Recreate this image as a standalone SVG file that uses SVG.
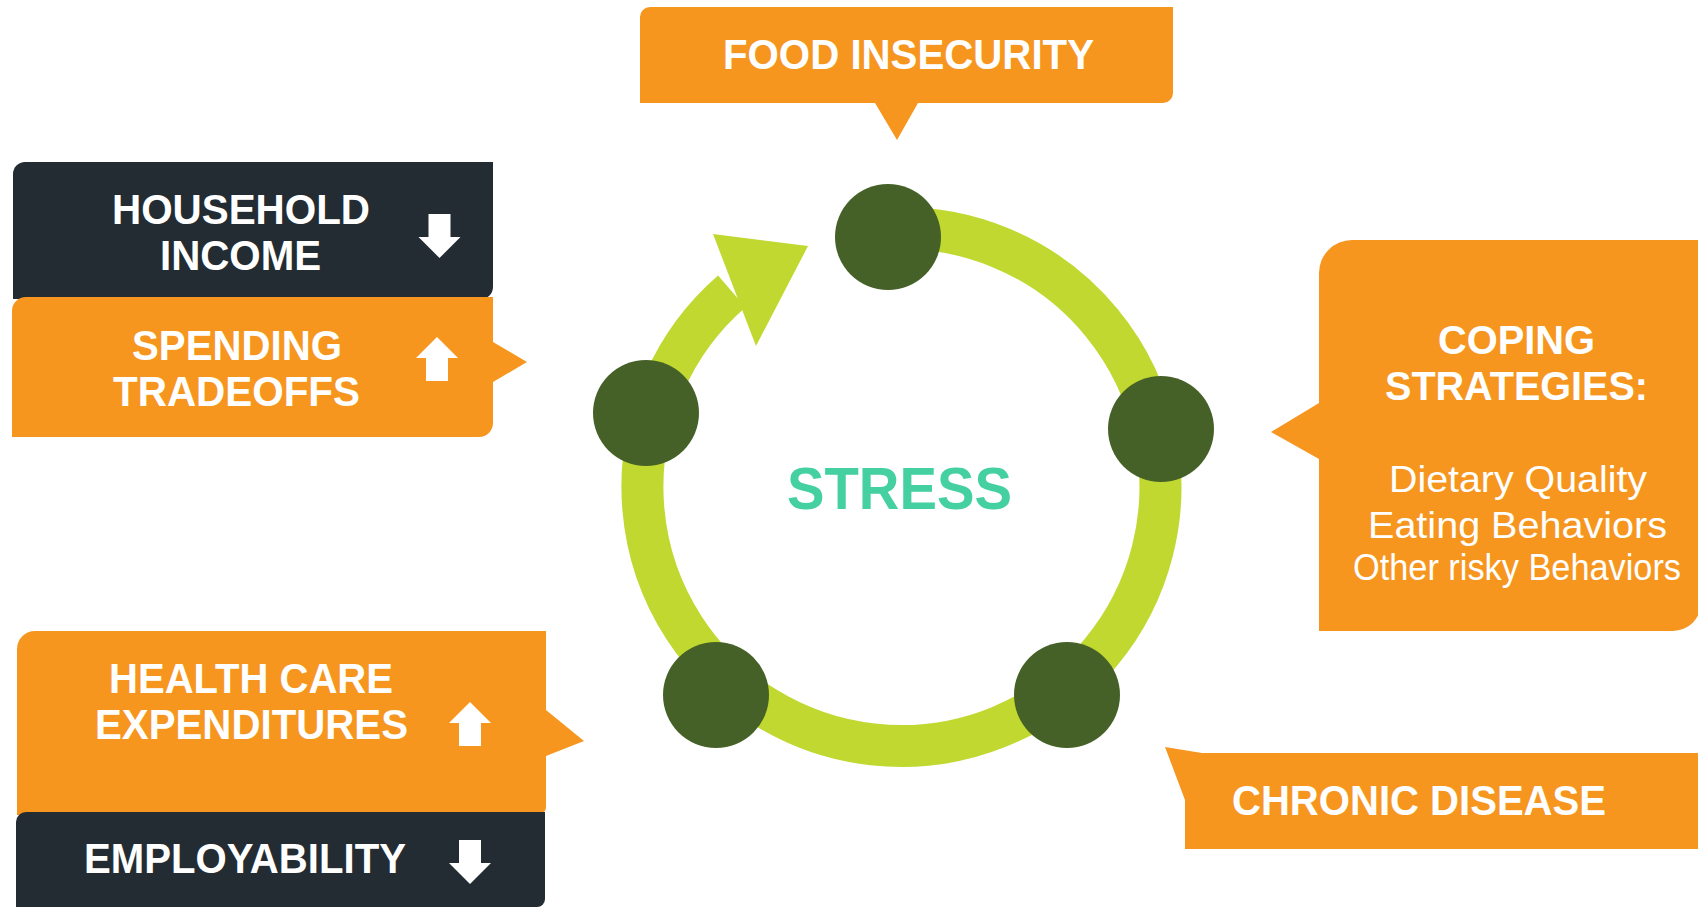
<svg xmlns="http://www.w3.org/2000/svg" width="1698" height="910" viewBox="0 0 1698 910">
  <style>
    .orange { fill: #F7961F; }
    .dark { fill: #232C33; }
    .label { font-family: "Liberation Sans", Arial, sans-serif; font-weight: bold; font-size: 43px; fill: #FFFFFF; text-anchor: middle; }
    .coping { font-size: 40px; }
    .body { font-family: "Liberation Sans", Arial, sans-serif; font-size: 37px; fill: #FFFFFF; text-anchor: middle; }
    .stress { font-family: "Liberation Sans", Arial, sans-serif; font-weight: bold; font-size: 60px; fill: #44D0A1; text-anchor: middle; }
    .ring { fill: none; stroke: #C0D830; stroke-width: 42; }
    .ring-head { fill: #C0D830; }
    .dot { fill: #456128; }
    .updown { fill: #FFFFFF; }
  </style>
  <defs>
    <!-- block arrow pointing up, tip at origin -->
    <path id="up-arrow" d="M0 0 L21 21 L11 21 L11 44 L-11 44 L-11 21 L-21 21 Z"/>
  </defs>

  <rect width="1698" height="910" fill="#FFFFFF"/>

  <!-- cycle ring with arrowhead -->
  <g id="connectors">
    <path class="ring" d="M887.4 228.4 A259 259 0 1 1 731.8 291.3"/>
    <polygon class="ring-head" points="713,234 808,246 756,346"/>
  </g>

  <!-- cycle nodes -->
  <g id="cycle-nodes">
    <circle id="node-top" class="dot" cx="888" cy="237" r="53"/>
    <circle id="node-right" class="dot" cx="1161" cy="429" r="53"/>
    <circle id="node-bottom-right" class="dot" cx="1067" cy="695" r="53"/>
    <circle id="node-bottom-left" class="dot" cx="716" cy="695" r="53"/>
    <circle id="node-left" class="dot" cx="646" cy="413" r="53"/>
  </g>

  <g id="stress">
    <text class="stress" x="899.5" y="509" textLength="225" lengthAdjust="spacingAndGlyphs">STRESS</text>
  </g>

  <g id="food-insecurity">
    <path class="orange" d="M650 7 H1173 V93 A10 10 0 0 1 1163 103 H918 L897 140 L875 103 H640 V17 A10 10 0 0 1 650 7 Z"/>
    <text class="label" x="908.5" y="69" textLength="371" lengthAdjust="spacingAndGlyphs">FOOD INSECURITY</text>
  </g>

  <g id="household-income">
    <path class="dark" d="M25 162 H493 V287 A12 12 0 0 1 481 299 H13 V174 A12 12 0 0 1 25 162 Z"/>
    <text class="label" x="241" y="224" textLength="258" lengthAdjust="spacingAndGlyphs">HOUSEHOLD</text>
    <text class="label" x="240.5" y="270" textLength="161" lengthAdjust="spacingAndGlyphs">INCOME</text>
    <use href="#up-arrow" class="updown" transform="translate(439.5 258) scale(1 -1)"/>
  </g>

  <g id="spending-tradeoffs">
    <path class="orange" d="M26 297 H493 V342 L527 362 L493 382 V423 A14 14 0 0 1 479 437 H12 V311 A14 14 0 0 1 26 297 Z"/>
    <text class="label" x="237" y="360" textLength="210" lengthAdjust="spacingAndGlyphs">SPENDING</text>
    <text class="label" x="236.5" y="406" textLength="247" lengthAdjust="spacingAndGlyphs">TRADEOFFS</text>
    <use href="#up-arrow" class="updown" transform="translate(437 337)"/>
  </g>

  <g id="health-care-expenditures">
    <path class="orange" d="M35 631 H546 V710 L584 741 L546 756 V807 A8 8 0 0 1 538 815 H17 V649 A18 18 0 0 1 35 631 Z"/>
    <text class="label" x="251" y="693" textLength="284" lengthAdjust="spacingAndGlyphs">HEALTH CARE</text>
    <text class="label" x="251.5" y="739" textLength="313" lengthAdjust="spacingAndGlyphs">EXPENDITURES</text>
    <use href="#up-arrow" class="updown" transform="translate(470 702)"/>
  </g>

  <g id="employability">
    <path class="dark" d="M26 812 H545 V899 A8 8 0 0 1 537 907 H16 V822 A10 10 0 0 1 26 812 Z"/>
    <text class="label" x="245" y="873" textLength="322" lengthAdjust="spacingAndGlyphs">EMPLOYABILITY</text>
    <use href="#up-arrow" class="updown" transform="translate(470 884) scale(1 -1)"/>
  </g>

  <g id="coping-strategies">
    <path class="orange" d="M1352 240 H1701 V603 A28 28 0 0 1 1673 631 H1319 V459 L1271 432 L1319 403 V273 A33 33 0 0 1 1352 240 Z"/>
    <text class="label coping" x="1516.5" y="354" textLength="157" lengthAdjust="spacingAndGlyphs">COPING</text>
    <text class="label coping" x="1516.5" y="400" textLength="263" lengthAdjust="spacingAndGlyphs">STRATEGIES:</text>
    <text class="body" x="1518" y="492" textLength="258" lengthAdjust="spacingAndGlyphs">Dietary Quality</text>
    <text class="body" x="1517.5" y="538" textLength="299" lengthAdjust="spacingAndGlyphs">Eating Behaviors</text>
    <text class="body" x="1517" y="580" font-size="35" textLength="328" lengthAdjust="spacingAndGlyphs">Other risky Behaviors</text>
  </g>

  <g id="chronic-disease">
    <polygon class="orange" points="1165,747 1202,753 1710,753 1710,849 1185,849 1185,800"/>
    <text class="label" x="1419" y="815" textLength="374" lengthAdjust="spacingAndGlyphs">CHRONIC DISEASE</text>
  </g>
</svg>
